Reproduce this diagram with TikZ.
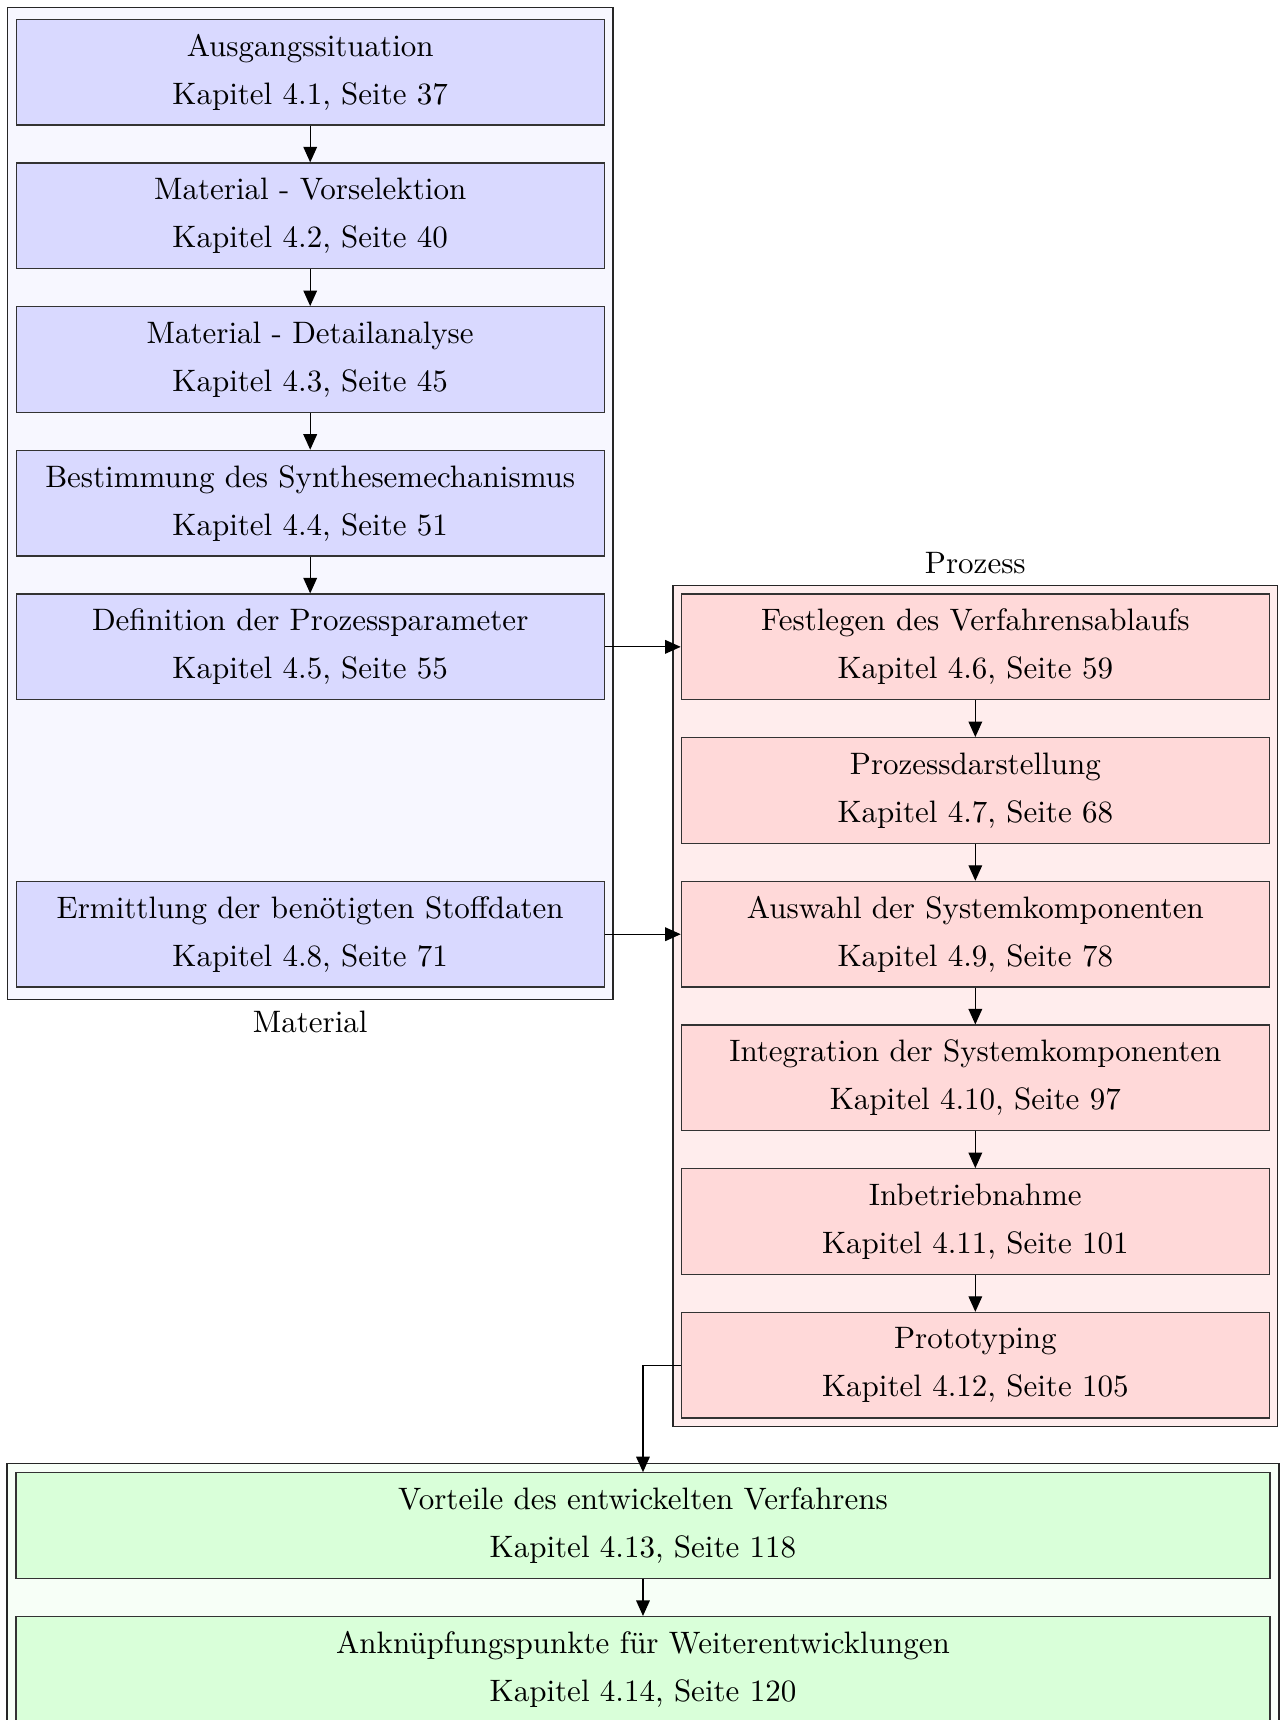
\documentclass[tikz,border=0pt]{standalone}
\usepackage{tikz}
\usetikzlibrary{arrows.meta}
\usetikzlibrary{fit}
\usetikzlibrary{backgrounds}

\tikzset{
    etappe/.style={rectangle, draw=black!80, align=center, minimum width=6.667cm, minimum height=1.198cm, inner sep=0pt},
    rahmen/.style={rectangle, draw=black!85},
    pfeil/.style={-{Triangle[length=5pt,width=4.4pt]}, black},
}

\begin{document}
\begin{tikzpicture}
            \useasboundingbox (0,0) rectangle (14.535,-19.501);
            \foreach \n/\s/\titel/\kap/\seite in {1/1/Ausgangssituation/4.1/37, 2/2/Material - Vorselektion/4.2/40, 3/3/Material - Detailanalyse/4.3/45, 4/4/Bestimmung des Synthesemechanismus/4.4/51, 5/5/Definition der Prozessparameter/4.5/55, 6/7/Ermittlung der benötigten Stoffdaten/4.8/71} {
                \node[etappe, fill=blue!15] (m\n) at (3.517,{-0.818-1.629*(\s-1)}) {\titel\\[3.5pt]Kapitel \kap, Seite \seite};
            }
            \foreach \n/\s/\titel/\kap/\seite in {1/5/Festlegen des Verfahrensablaufs/4.6/59, 2/6/Prozessdarstellung/4.7/68, 3/7/Auswahl der Systemkomponenten/4.9/78, 4/8/Integration der Systemkomponenten/4.10/97, 5/9/Inbetriebnahme/4.11/101, 6/10/Prototyping/4.12/105} {
                \node[etappe, fill=red!15] (p\n) at (11.058,{-0.818-1.629*(\s-1)}) {\titel\\[3.5pt]Kapitel \kap, Seite \seite};
            }
            \node[etappe, fill=green!15, minimum width=14.218cm] (e1) at (7.290,-17.297) {Vorteile des entwickelten Verfahrens\\[3.5pt]Kapitel 4.13, Seite 118};
            \node[etappe, fill=green!15, minimum width=14.218cm] (e2) at (7.290,-18.927) {Anknüpfungspunkte für Weiterentwicklungen\\[3.5pt]Kapitel 4.14, Seite 120};

            \begin{scope}[on background layer]
                \node[rahmen, fill=blue!3, inner xsep=2.6pt, inner ysep=3.7pt, fit=(m1)(m6)] (material) {};
                \node[rahmen, fill=red!7, inner sep=2.5pt, fit=(p1)(p6)] (prozess) {};
                \node[rahmen, fill=green!3, inner sep=2.7pt, fit=(e1)(e2)] (ergebnis) {};
            \end{scope}
            \node[below] (materialtitel) at (material.south) {Material};
            \node[above] (prozesstitel) at (prozess.north) {Prozess};

            \foreach \a/\b in {m1/m2,m2/m3,m3/m4,m4/m5,p1/p2,p2/p3,p3/p4,p4/p5,p5/p6,e1/e2} {
                \draw[pfeil] (\a) -- (\b);
            }
            \draw[pfeil] (m5) -- (p1);
            \draw[pfeil] (m6) -- (p3);
            \draw[pfeil] (p6.west) -| (e1.north);
        \end{tikzpicture}
\end{document}
